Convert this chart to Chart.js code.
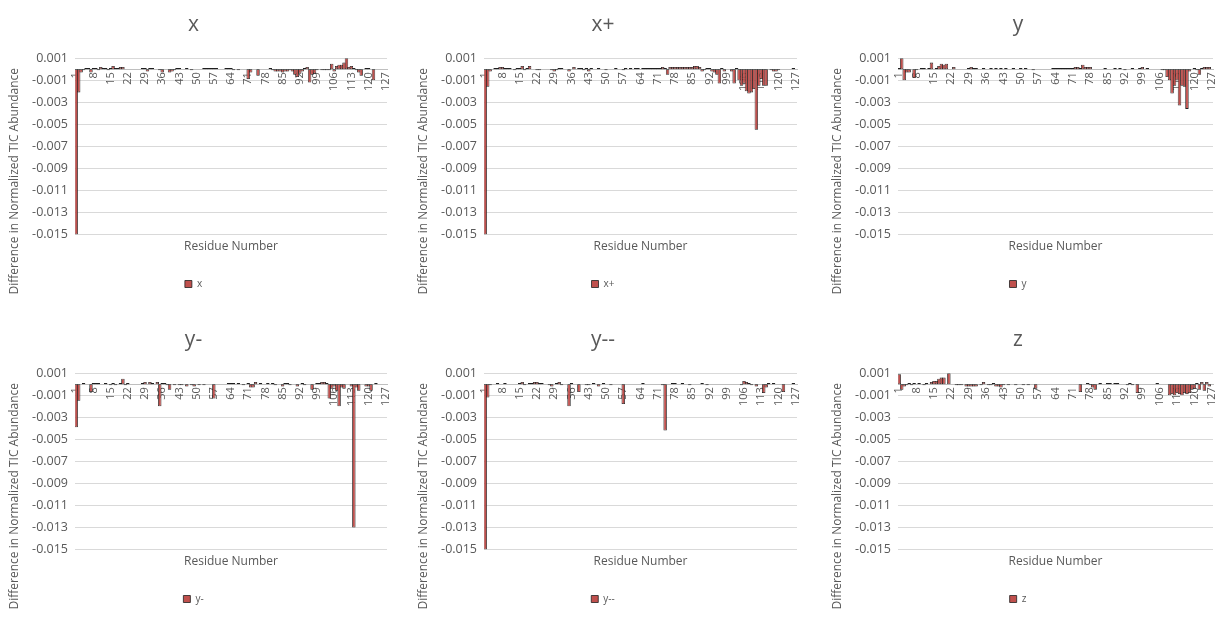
<!DOCTYPE html>
<html>
<head>
<meta charset="utf-8">
<script src="https://cdn.jsdelivr.net/npm/chart.js@4/dist/chart.umd.min.js"></script>
<style>
  body { margin: 0; background: #fff; width: 1225px; height: 618px; overflow: hidden; position: relative; }
  canvas { position: absolute; }
</style>
</head>
<body>
<canvas id="c0" width="392" height="300" style="left:0px;top:0px"></canvas>
<canvas id="c1" width="393" height="300" style="left:409px;top:0px"></canvas>
<canvas id="c2" width="395" height="300" style="left:823px;top:0px"></canvas>
<canvas id="c3" width="392" height="300" style="left:0px;top:315px"></canvas>
<canvas id="c4" width="393" height="300" style="left:409px;top:315px"></canvas>
<canvas id="c5" width="395" height="300" style="left:823px;top:315px"></canvas>
<script>
// residues 1..127, labelled every 7th
const residues = Array.from({ length: 127 }, (_, i) => String(i + 1));
const yTicks = [0.001, -0.001, -0.003, -0.005, -0.007, -0.009, -0.011, -0.013, -0.015];
const xTitle = "Residue Number";
const yTitle = "Difference in Normalized TIC Abundance";

const seriesNames = ["x", "x+", "y", "y-", "y--", "z"];

const valuesX = [
  -0.015, -0.0021, -0.0003, -0.0001, 0.0001, 0.0001, -0.0003, 0.0001, 0.0001, -0.0001,
  0.0002, 0.0001, 0.0001, -0.0001, 0.0001, 0.0003, 0.0001, 0.0001, 0.0002, 0.0002,
  0, 0, 0, 0, 0, 0, 0, 0.0001, 0.0001, -0.0002,
  0.0001, 0.0001, 0, 0, -0.0001, -0.0003, 0, 0, -0.0003, -0.0002,
  -0.0001, 0.0001, 0.0001, 0, 0, 0.0001, 0, -0.0001, 0, 0,
  0, 0, 0.0001, 0.0001, 0.0001, 0.0001, 0.0001, 0.0001, 0, 0,
  0, 0.0001, 0.0001, 0.0001, -0.0001, 0, -0.0001, 0, 0, 0,
  -0.0009, -0.0003, 0, 0, -0.0006, 0, 0, 0, 0, 0.0001,
  -0.0001, -0.0002, -0.0002, -0.0002, -0.0003, -0.0002, -0.0002, -0.0001, -0.0002, -0.0005,
  -0.0007, -0.0004, -0.0002, 0.0001, 0.0002, -0.0012, -0.0005, -0.0004, -0.0001, 0,
  -0.0001, -0.0001, -0.0001, -0.0001, 0.0005, -0.0002, 0.0003, 0.0004, 0.0004, 0.0006,
  0.001, 0.0002, 0.0003, 0.0001, -0.0001, -0.0003, -0.0006, 0, 0.0001, 0.0001,
  0, -0.001, 0, 0, 0, 0, 0
];

const valuesXPlus = [
  -0.015, -0.0016, -0.0002, 0, 0.0001, 0.0001, 0.0002, 0.0002, 0.0001, 0.0001,
  0.0001, 0, -0.0001, 0.0001, 0.0001, 0.0003, -0.0001, 0.0001, 0.0003, 0,
  0, -0.0001, -0.0001, 0, 0, 0, 0, -0.0001, -0.0002, -0.0001,
  0.0001, 0.0001, 0, 0, -0.0002, 0, 0.0002, 0, 0.0001, 0.0001,
  -0.0001, 0.0001, -0.0002, 0.0001, 0, 0, 0.0001, 0, 0, -0.0001,
  0, 0, 0, 0.0001, 0, 0, -0.0001, 0.0001, 0, 0.0001,
  0, 0.0001, 0.0001, 0, 0.0001, 0.0001, 0.0001, 0.0001, 0.0001, 0.0001,
  0.0001, 0.0001, 0.0002, 0.0001, -0.0005, 0.0002, 0.0002, 0.0002, 0.0002, 0.0002,
  0.0002, 0.0002, 0.0002, 0.0002, 0.0002, 0.0003, 0.0003, 0.0002, -0.0002, -0.0001,
  0.0001, 0.0001, -0.0002, -0.0003, -0.0005, -0.0013, 0.0001, -0.0002, 0, 0,
  -0.0002, -0.0013, 0.0001, -0.001, -0.0015, -0.0013, -0.002, -0.0022, -0.0021, -0.0018,
  -0.0055, -0.0015, -0.0009, -0.0015, -0.0015, 0, -0.0001, -0.0002, -0.0002, -0.0001,
  0, 0, 0, 0, 0, 0.0001, 0
];

const valuesY = [
  0.0001, 0.001, -0.001, -0.0003, -0.0003, 0, -0.0008, -0.0001, 0, 0.0001,
  0.0001, 0, 0.0001, 0.0006, 0, 0.0001, 0.0003, 0.0005, 0.0004, 0.0005,
  0, 0, 0.0002, 0, 0, 0, 0, 0, 0.0001, 0.0002,
  0.0001, 0.0001, 0, 0, 0.0001, 0, 0, 0.0001, 0, 0.0001,
  0, 0.0001, 0, 0.0001, 0, 0, 0.0001, 0, 0, 0.0001,
  0, 0.0001, 0, 0, -0.0001, 0, 0, 0, 0, 0,
  0, 0, 0.0001, 0.0001, 0.0001, 0.0001, 0.0001, 0.0001, 0.0001, 0.0001,
  0.0001, 0.0002, 0.0002, 0.0001, 0.0004, 0.0002, 0.0002, 0.0002, 0, 0,
  0, 0, 0, 0.0001, 0, 0, 0, 0.0001, 0, 0.0001,
  0, -0.0001, 0, 0, 0.0001, 0, 0, 0.0001, 0.0002, 0,
  0.0001, 0, 0, 0, 0, 0, -0.0001, -0.0001, -0.0007, -0.001,
  -0.0022, -0.0015, -0.001, -0.0033, -0.0015, -0.0016, -0.0036, -0.0002, 0, 0.0001,
  -0.0001, -0.0005, 0.0001, 0.0002, 0.0002, 0.0002, 0
];

const valuesYMinus = [
  -0.0039, -0.0015, 0, 0.0001, 0, 0, -0.0007, 0.0001, 0.0001, 0.0001,
  0, 0, 0.0001, 0, -0.0001, 0.0001, -0.0001, 0, 0.0001, 0.0005,
  -0.0001, 0.0001, 0, 0, 0, 0, 0, 0.0001, 0.0002, 0,
  0.0002, 0.0001, 0, 0.0002, -0.002, 0.0001, 0.0001, -0.0001, -0.0005, 0,
  -0.0001, 0, -0.0001, -0.0001, 0, -0.0002, 0, -0.0001, -0.0002, 0,
  -0.0001, 0, -0.0001, 0, 0, 0, -0.0013, 0, 0, 0,
  0, 0, 0.0001, 0.0001, 0.0001, 0, 0.0001, 0, -0.0001, 0,
  0.0001, -0.0003, -0.0003, 0.0002, 0, 0.0001, 0, 0, 0.0001, 0,
  0.0001, -0.0001, 0, 0, -0.0002, 0.0001, 0.0001, -0.0001, 0, 0,
  -0.0002, 0, 0.0001, -0.0001, 0, 0, -0.0005, 0, 0.0001, 0.0001,
  0.0002, 0.0002, 0.0001, -0.0013, -0.0004, -0.0002, -0.0006, -0.002, -0.0003, -0.0004,
  0, 0, -0.0002, -0.013, -0.0003, -0.0006, 0, 0, -0.0002, -0.0002,
  -0.0006, 0, 0.0001, 0, 0, 0, 0
];

const valuesYMinus2 = [
  -0.015, -0.0012, -0.0001, 0, 0, 0.0001, 0, 0, 0.0001, 0,
  0, 0, 0, 0, 0.0001, 0.0002, -0.0001, 0, 0.0001, 0.0001,
  0.0002, 0.0002, 0.0001, 0.0001, 0, 0, -0.0001, -0.0002, 0, 0.0001,
  0.0002, -0.0001, 0, 0, -0.002, 0.0001, 0, 0, -0.0007, 0,
  0, -0.0001, -0.0001, 0, 0.0001, 0, -0.0002, 0, 0.0001, 0,
  0, -0.0001, 0, 0, 0, 0, -0.0018, 0, 0, 0,
  0, 0, 0, 0, 0.0001, 0, 0, 0, 0, 0,
  0, 0, -0.0001, -0.0042, 0, 0, 0.0001, 0.0001, 0, 0,
  0.0001, 0, 0, -0.0001, 0, 0, 0, 0, 0.0001, 0,
  -0.0001, 0, 0, 0, 0, 0, 0, 0, 0, 0,
  0, 0, 0, 0, -0.0001, 0.0003, 0.0002, 0.0001, -0.0001, 0,
  -0.0002, 0, 0, -0.0008, -0.0003, 0.0001, 0, 0.0001, 0, 0,
  0, -0.0007, 0, 0, 0, 0.0001, 0
];

const valuesZ = [
  0.0009, -0.0005, -0.0002, -0.0001, 0.0001, -0.0001, 0.0001, 0, 0.0001, 0,
  -0.0001, 0.0001, 0, 0.0002, 0.0003, 0.0003, 0.0005, 0.0006, 0.0006, 0,
  0.001, 0, 0, -0.0001, -0.0001, -0.0001, 0, -0.0002, -0.0002, -0.0002,
  -0.0002, -0.0002, 0, -0.0001, 0.0002, 0, -0.0001, -0.0001, 0.0001, -0.0002,
  -0.0002, -0.0003, -0.0001, 0, -0.0001, 0, 0, -0.0001, 0, 0,
  -0.0001, 0, -0.0001, 0, 0, -0.0004, 0, 0, 0, 0,
  0, 0, 0, 0, 0, 0, 0, 0, 0, 0,
  0, 0, 0, -0.0007, 0, 0, 0.0001, -0.0001, -0.0003, -0.0005,
  0, 0.0001, 0, 0, 0.0001, 0.0001, 0, 0.0001, 0.0001, 0,
  0, 0, -0.0001, 0.0001, -0.0001, 0, -0.0008, 0, 0, 0,
  0, 0, 0, 0, 0.0001, 0, 0, 0, 0, -0.001,
  -0.0009, -0.001, -0.0008, -0.0009, -0.001, -0.0008, -0.0009, -0.0008, -0.0005, -0.0004,
  0.0001, -0.0005, 0.0002, -0.0006, 0.0002, -0.0002, 0
];

const allValues = [valuesX, valuesXPlus, valuesY, valuesYMinus, valuesYMinus2, valuesZ];

const fontFamily = '"Open Sans", "Noto Sans", sans-serif';
const textColor = "#595959";

// rotated y title, centred a bit lower than the plot like in Excel
const yAxisTitle = {
  id: "yAxisTitle",
  afterDraw(chart) {
    const { ctx, chartArea } = chart;
    ctx.save();
    ctx.fillStyle = textColor;
    ctx.font = "12px " + fontFamily;
    ctx.textAlign = "center";
    ctx.textBaseline = "middle";
    ctx.translate(chartArea.left - 60, chartArea.top + 123);
    ctx.rotate(-Math.PI / 2);
    ctx.fillText(yTitle, 0, 0);
    ctx.restore();
  }
};

function makeChart(id, name, values) {
  const ctx = document.getElementById(id).getContext("2d");
  return new Chart(ctx, {
    type: "bar",
    data: {
      labels: residues,
      datasets: [{
        label: name,
        data: values,
        backgroundColor: "#c0504d",
        borderColor: "#1f1f1f",
        borderWidth: 0.8,
        borderSkipped: false,
        barPercentage: 1.4,
        categoryPercentage: 1
      }]
    },
    options: {
      responsive: false,
      animation: false,
      layout: { padding: { left: 0, right: 5, top: 0, bottom: 1 } },
      plugins: {
        tooltip: { enabled: false },
        title: {
          display: true,
          text: name,
          color: textColor,
          font: { size: 21, weight: "normal", family: fontFamily },
          padding: { top: 12, bottom: 21 }
        },
        // x axis title sits between plot and legend
        subtitle: {
          display: true,
          text: xTitle,
          position: "bottom",
          fullSize: false,
          weight: 500,
          color: textColor,
          font: { size: 12, family: fontFamily },
          padding: { top: 5, bottom: 17 }
        },
        legend: {
          position: "bottom",
          labels: {
            boxWidth: 7,
            boxHeight: 7,
            color: textColor,
            font: { size: 10, family: fontFamily },
            padding: 8
          }
        }
      },
      scales: {
        x: {
          position: { y: 0 },
          afterFit: (scale) => { scale.paddingLeft = 0; scale.paddingRight = 0; },
          grid: { display: false, drawTicks: false },
          border: { display: true, color: "#bfbfbf", width: 1 },
          ticks: {
            autoSkip: false,
            minRotation: 90,
            maxRotation: 90,
            padding: 3,
            color: textColor,
            font: { size: 11, family: fontFamily },
            callback: (v, i) => (i % 7 === 0 ? residues[i] : "")
          }
        },
        y: {
          min: -0.015,
          max: 0.001,
          afterBuildTicks: (scale) => { scale.ticks = yTicks.map((v) => ({ value: v })); },
          afterFit: (scale) => { scale.width = 75; },
          grid: { color: "#d9d9d9", drawTicks: false },
          border: { display: false },
          ticks: {
            padding: 7,
            color: textColor,
            font: { size: 12.5, family: fontFamily },
            callback: (v) => v.toFixed(3)
          }
        }
      }
    },
    plugins: [yAxisTitle]
  });
}

seriesNames.forEach((name, i) => makeChart("c" + i, name, allValues[i]));
</script>
</body>
</html>
